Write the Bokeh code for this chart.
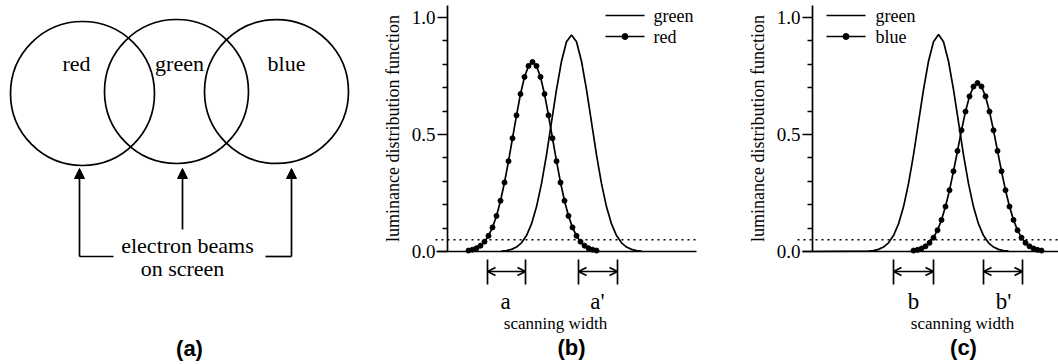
import math
from bokeh.plotting import figure
from bokeh.layouts import row
from bokeh.models import (Range1d, FixedTicker, LinearAxis, Arrow, NormalHead,
                          OpenHead, NumeralTickFormatter)
from bokeh.core.properties import value
from bokeh.embed import file_html
from bokeh.resources import INLINE

# ---------------- data ----------------
beam_names = ["red", "green", "blue"]
tick_values = [0.0, 0.5, 1.0]
minor_tick_values = [0.1, 0.2, 0.3, 0.4, 0.6, 0.7, 0.8, 0.9]
threshold = 0.05

# panel (b): green curve (line) and red curve (line + dots)
green_b_x = [54, 59, 64, 69, 74, 79, 84, 89, 94, 99, 104, 109, 114, 119, 124,
             129, 134, 139, 144, 149, 154, 159, 164, 169, 174, 179, 184, 189, 194]
green_b_y = [0.002, 0.004, 0.009, 0.019, 0.037, 0.068, 0.118, 0.191, 0.290, 0.413,
             0.553, 0.692, 0.813, 0.896, 0.925, 0.896, 0.813, 0.692, 0.553, 0.413,
             0.290, 0.191, 0.118, 0.068, 0.037, 0.019, 0.009, 0.004, 0.002]
red_x = [21, 25, 29, 33, 37, 41, 45, 49, 53, 57, 61, 65, 69, 73, 77, 81, 85,
         89, 93, 97, 101, 105, 109, 113, 117, 121, 125, 129, 133, 137, 141, 145, 149]
red_y = [0.004, 0.008, 0.014, 0.025, 0.042, 0.067, 0.103, 0.152, 0.217, 0.295,
         0.386, 0.484, 0.582, 0.673, 0.746, 0.793, 0.810, 0.793, 0.746, 0.673,
         0.582, 0.484, 0.386, 0.295, 0.217, 0.152, 0.103, 0.067, 0.042, 0.025,
         0.014, 0.008, 0.004]

# panel (c): green curve (line) and blue curve (line + dots)
green_c_x = [0, 56, 61, 66, 71, 76, 81, 86, 91, 96, 101, 106, 111, 116, 121, 126,
             131, 136, 141, 146, 151, 156, 161, 166, 171, 176, 181, 186, 191, 196]
green_c_y = [0.0, 0.002, 0.004, 0.009, 0.019, 0.037, 0.068, 0.118, 0.191, 0.290,
             0.413, 0.553, 0.692, 0.813, 0.896, 0.927, 0.896, 0.813, 0.692, 0.553,
             0.413, 0.290, 0.191, 0.118, 0.068, 0.037, 0.019, 0.009, 0.004, 0.002]
blue_x = [101, 105, 109, 113, 117, 121, 125, 129, 133, 137, 141, 145, 149, 153,
          157, 161, 165, 169, 173, 177, 181, 185, 189, 193, 197, 201, 205, 209,
          213, 217, 221, 225, 229]
blue_y = [0.004, 0.007, 0.013, 0.022, 0.037, 0.059, 0.091, 0.135, 0.192, 0.262,
          0.343, 0.430, 0.518, 0.598, 0.663, 0.705, 0.720, 0.705, 0.663, 0.598,
          0.518, 0.430, 0.343, 0.262, 0.192, 0.135, 0.091, 0.059, 0.037, 0.022,
          0.013, 0.007, 0.004]

# ---------------- layout helpers ----------------
SERIF = value("Liberation Serif")
SANS = value("Liberation Sans")
H = 364
LW = 1.7


def yd(py):
    """page-y pixel -> luminance units for panels (b)/(c)"""
    return (251.0 - py) / 234.0


# ---------------- panel (a) ----------------
pa = figure(width=368, height=H, x_range=Range1d(0, 368), y_range=Range1d(H, 0),
            x_axis_location=None, y_axis_location=None, output_backend="svg",
            toolbar_location=None, min_border=0)
pa.grid.visible = False
pa.outline_line_color = None

pa.circle(x=[82, 176, 276], y=[93, 91, 91], radius=72, fill_color=None,
          line_color="black", line_width=LW)
pa.text(x=[76, 179, 286], y=[63, 63, 63], text=beam_names, text_font=SERIF,
        text_font_size="22px", text_align="center", text_baseline="middle",
        text_color="black")
for ax, y_from in [(79, 256), (182, 229), (291, 256)]:
    pa.add_layout(Arrow(end=NormalHead(size=10, fill_color="black", line_color="black",
                                       line_width=1),
                        x_start=ax, y_start=y_from, x_end=ax, y_end=168,
                        line_width=LW, line_color="black"))
pa.segment(x0=[79, 265], y0=[256, 256], x1=[113, 291], y1=[256, 256],
           line_width=LW, line_color="black")
pa.text(x=[187, 182], y=[245, 268], text=["electron beams", "on screen"],
        text_font=SERIF, text_font_size="22px", text_align="center",
        text_baseline="middle", text_color="black")
pa.text(x=[189], y=[348], text=["(a)"], text_font=SANS, text_font_style="bold",
        text_font_size="22px", text_align="center", text_baseline="middle",
        text_color="black")


# ---------------- panels (b) and (c) ----------------
def make_panel(width, x_start, base_from, base_to, dot_from, dot_to):
    p = figure(width=width, height=H, x_range=Range1d(x_start, x_start + width),
               y_range=Range1d(yd(H), yd(0)), x_axis_location=None,
               y_axis_location=None, output_backend="svg", toolbar_location=None,
               min_border=0)
    p.grid.visible = False
    p.outline_line_color = None
    yax = LinearAxis(fixed_location=0, bounds=(0, yd(5)),
                     ticker=FixedTicker(ticks=tick_values, minor_ticks=minor_tick_values),
                     formatter=NumeralTickFormatter(format="0.0"),
                     major_tick_in=0, major_tick_out=10, minor_tick_in=0, minor_tick_out=5,
                     major_label_standoff=2, major_label_text_font="Liberation Serif",
                     major_label_text_font_size="19px", major_label_text_color="black",
                     axis_line_width=LW, major_tick_line_width=LW, minor_tick_line_width=LW,
                     axis_line_color="black", major_tick_line_color="black",
                     minor_tick_line_color="black")
    p.add_layout(yax, "left")
    xax = LinearAxis(fixed_location=0, bounds=(base_from, base_to),
                     ticker=FixedTicker(ticks=[]), major_tick_line_color=None,
                     minor_tick_line_color=None, major_label_text_font_size="0px",
                     axis_line_width=LW, axis_line_color="black")
    p.add_layout(xax, "below")
    p.segment(x0=[dot_from], y0=[threshold], x1=[dot_to], y1=[threshold],
              line_dash="2 4", line_width=1.5, line_color="black")
    p.text(x=[-55], y=[yd(128)], text=["luminance distribution function"],
           angle=math.pi / 2, text_font=SERIF, text_font_size="18px",
           text_align="center", text_baseline="middle", text_color="black")
    return p


def width_marker(p, x0, x1, label, label_x):
    p.segment(x0=[x0, x1], y0=[yd(259), yd(259)], x1=[x0, x1], y1=[yd(284), yd(284)],
              line_width=LW, line_color="black")
    p.add_layout(Arrow(start=OpenHead(size=8, line_width=LW, line_color="black"),
                       end=OpenHead(size=8, line_width=LW, line_color="black"),
                       x_start=x0, y_start=yd(271), x_end=x1, y_end=yd(271),
                       line_width=LW, line_color="black"))
    p.text(x=[label_x], y=[yd(301)], text=[label], text_font=SERIF,
           text_font_size="23px", text_align="center", text_baseline="alphabetic",
           text_color="black")


def legend_rows(p, lx0, lx1, tx, dotted_name):
    p.segment(x0=[lx0, lx0], y0=[yd(15), yd(36)], x1=[lx1, lx1], y1=[yd(15), yd(36)],
              line_width=LW, line_color="black")
    p.scatter(x=[(lx0 + lx1) / 2], y=[yd(36)], size=6, marker="circle",
              fill_color="black", line_color="black")
    p.text(x=[tx, tx], y=[yd(15), yd(36)], text=["green", dotted_name],
           text_font=SERIF, text_font_size="18px", text_align="left",
           text_baseline="middle", text_color="black")


def footer(p, sx, cx, tag):
    p.text(x=[sx], y=[yd(323)], text=["scanning width"], text_font=SERIF,
           text_font_size="17px", text_align="center", text_baseline="alphabetic",
           text_color="black")
    p.text(x=[cx], y=[yd(347)], text=[tag], text_font=SANS, text_font_style="bold",
           text_font_size="22px", text_align="center", text_baseline="middle",
           text_color="black")


# (b): y-axis at page x 447, figure spans page x 368..718
pb = make_panel(350, -79, -11, 249, -12, 249)
pb.line(green_b_x, green_b_y, line_width=LW, line_color="black")
pb.line(red_x, red_y, line_width=LW, line_color="black")
pb.scatter(red_x, red_y, size=5, marker="circle", fill_color="black", line_color="black")
width_marker(pb, 40, 78, "a", 58)
width_marker(pb, 131, 170, "a'", 150)
legend_rows(pb, 158, 197, 206, "red")
footer(pb, 108, 124, "(b)")

# (c): y-axis at page x 812, figure spans page x 718..1058
pc = make_panel(340, -94, -10, 246, -15, 246)
pc.line(green_c_x, green_c_y, line_width=LW, line_color="black")
pc.line(blue_x, blue_y, line_width=LW, line_color="black")
pc.scatter(blue_x, blue_y, size=5, marker="circle", fill_color="black", line_color="black")
width_marker(pc, 81, 121, "b", 101)
width_marker(pc, 171, 210, "b'", 191)
legend_rows(pc, 14, 53, 63, "blue")
footer(pc, 150, 151, "(c)")

layout = row(pa, pb, pc)
open("out.html", "w").write(file_html(layout, INLINE))
